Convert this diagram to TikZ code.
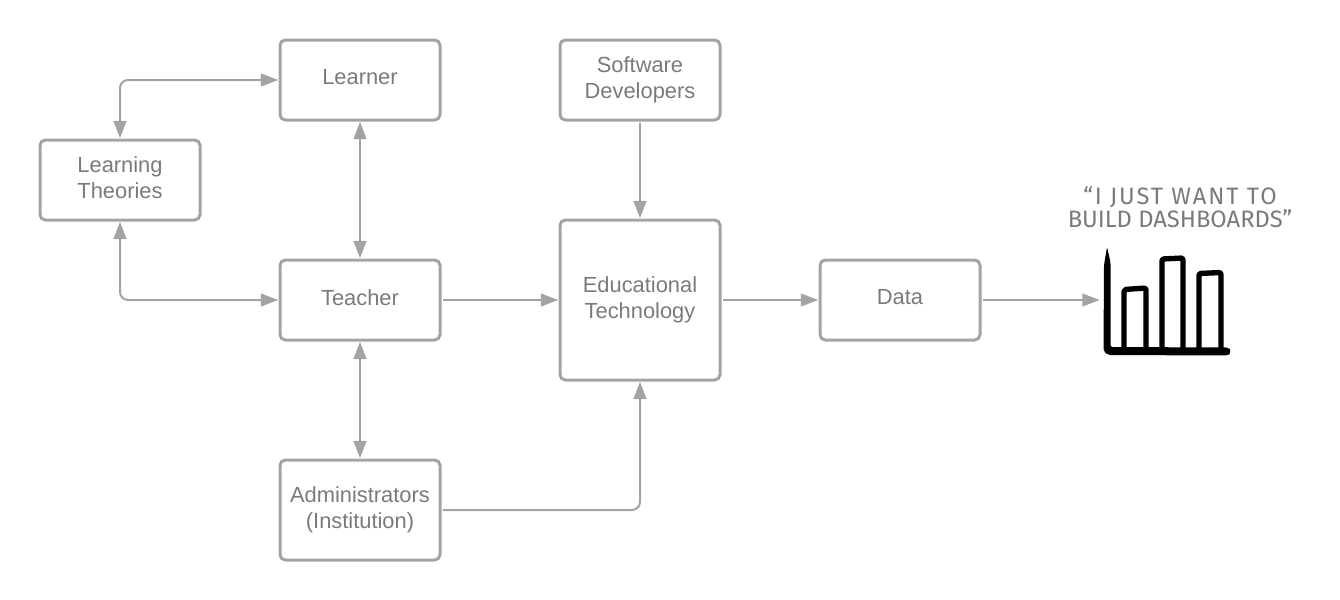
\documentclass[tikz,border=0pt]{standalone}
\usepackage{fontspec}
\setmainfont{Liberation Sans}
\newfontfamily\handfont{Fira Sans}
\newfontfamily\handwide[LetterSpace=8]{Fira Sans}
\usetikzlibrary{positioning, arrows.meta}
\definecolor{linegray}{HTML}{A3A3A3}
\definecolor{textgray}{HTML}{7A7A7A}
\tikzstyle{Box} = [
draw=linegray,
line width=2.25pt,
rounded corners=4pt,
text=textgray,
align=center,
text depth=4pt,
font=\fontsize{16.4}{19.5}\selectfont,
inner sep=0pt,
minimum width=120pt,
minimum height=60pt]
\tikzstyle{Arrow} = [
draw=linegray,
line width=1.5pt,
rounded corners=6pt,
-{Triangle[length=13pt,width=9.5pt]},
shorten >= 0.2pt,
shorten <= 0.8pt]
\tikzstyle{TwoWay} = [
Arrow,
{Triangle[length=13pt,width=9.5pt]}-{Triangle[length=13pt,width=9.5pt]},
shorten <= 0.2pt]
\tikzstyle{Bar} = [
line width=4pt,
line join=round,
line cap=round,
rounded corners=1.5pt]

\begin{document}
\begin{tikzpicture}[x=0.75pt, y=-0.75pt]
    \useasboundingbox (0,0) rectangle (1340,600);

    \node [Box] (teacher) at (360,300) {Teacher};
    \node [Box, above =102.75pt of teacher] (learner) {Learner};
    \node [Box, below =87.75pt of teacher, minimum height=75pt] (admin) {Administrators\\(Institution)};
    \node [Box] (theories) at (120,180) {Learning\\Theories};
    \node [Box, minimum height=120pt] (edtech) at (640,300) {Educational\\Technology};
    \node [Box, above =72.75pt of edtech] (software) {Software\\Developers};
    \node [Box, right =72.75pt of edtech] (data) {Data};
    \coordinate (chart) at (1100,300);

    \draw [TwoWay] (theories.north) |- (learner.west);
    \draw [TwoWay] (theories.south) |- (teacher.west);
    \draw [TwoWay] (learner) to (teacher);
    \draw [TwoWay] (teacher) to (admin);
    \draw [Arrow] (teacher) to (edtech);
    \draw [Arrow] (software) to (edtech);
    \draw [Arrow] (admin.east) -| (edtech.south);
    \draw [Arrow] (edtech) to (data);
    \draw [Arrow] (data) to (chart);

    \node [text=textgray, align=center, font=\handfont\fontsize{17.8}{17.5}\selectfont] (quote) at (1180,207) {{\handwide “I JUST WANT TO}\\BUILD DASHBOARDS”};

    % hand drawn bar chart
    \fill [black, rounded corners=1.5pt] (1107,247) -- (1110.5,262) -- (1110.5,347) -- (1228,347.5)
        .. controls (1231,350) and (1230,354) .. (1227,355.5) -- (1108,355) -- (1103.5,351) -- (1104,265) -- cycle;
    \draw [Bar] (1124,348) -- (1124,289.5) -- (1146,288) -- (1146,348);
    \draw [Bar] (1162,348) -- (1162,259) -- (1183,258) -- (1183,348);
    \draw [Bar] (1199,348) -- (1199,273.5) -- (1221,272.5) -- (1221,348);
\end{tikzpicture}
\end{document}
